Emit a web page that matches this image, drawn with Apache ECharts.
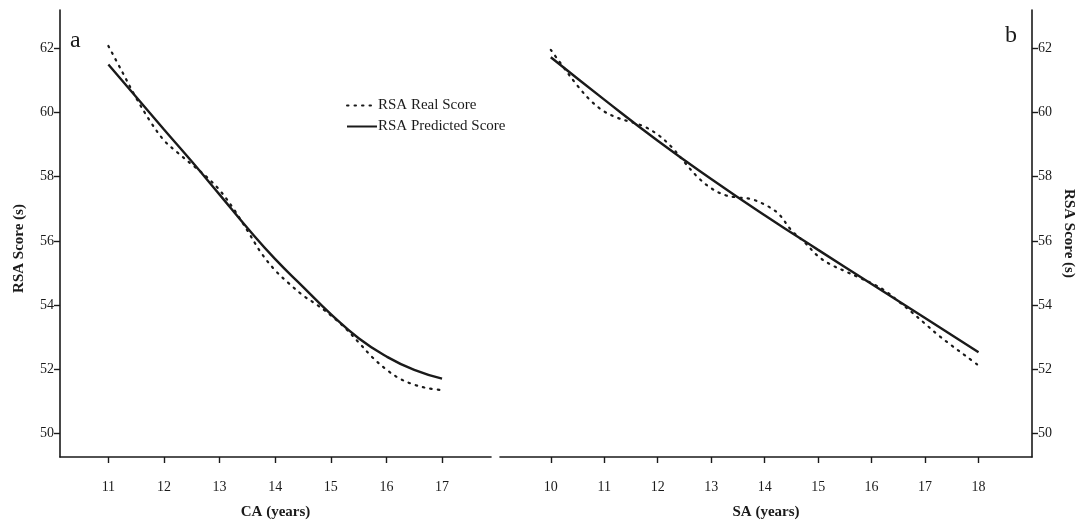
<!DOCTYPE html>
<html>
<head>
<meta charset="utf-8">
<script src="https://cdn.jsdelivr.net/npm/echarts@6/dist/echarts.min.js"></script>
<style>
  html, body { margin: 0; padding: 0; background: #fff; }
  #chart { width: 1082px; height: 525px; }
</style>
</head>
<body>
<div id="chart"></div>
<script>
// Panel a: RSA score against chronological age (CA)
const caRealX = [11.0, 11.25, 11.5, 11.75, 12.0, 12.25, 12.5, 12.75, 13.0, 13.25, 13.5, 13.75, 14.0, 14.25, 14.5, 14.75, 15.0, 15.25, 15.5, 15.75, 16.0, 16.25, 16.5, 16.75, 17.0];
const caRealY = [62.07, 61.26, 60.45, 59.73, 59.13, 58.74, 58.38, 58.02, 57.58, 57.0, 56.32, 55.62, 55.08, 54.67, 54.30, 54.01, 53.68, 53.30, 52.84, 52.37, 51.99, 51.70, 51.52, 51.41, 51.35];
const caPredX = [11.0, 11.5, 12.0, 12.5, 13.0, 13.5, 14.0, 14.5, 15.0, 15.5, 16.0, 16.5, 17.0];
const caPredY = [61.49, 60.48, 59.47, 58.47, 57.44, 56.40, 55.43, 54.57, 53.72, 52.97, 52.40, 51.98, 51.71];

// Panel b: RSA score against skeletal age (SA)
const saRealX = [10.0, 10.25, 10.5, 10.75, 11.0, 11.25, 11.5, 11.75, 12.0, 12.25, 12.5, 12.75, 13.0, 13.25, 13.5, 13.75, 14.0, 14.25, 14.5, 14.75, 15.0, 15.25, 15.5, 15.75, 16.0, 16.25, 16.5, 16.75, 17.0, 17.25, 17.5, 17.75, 18.0];
const saRealY = [61.95, 61.38, 60.83, 60.36, 60.03, 59.83, 59.70, 59.56, 59.31, 58.94, 58.45, 57.98, 57.64, 57.43, 57.35, 57.30, 57.13, 56.86, 56.33, 55.95, 55.52, 55.25, 55.06, 54.87, 54.68, 54.45, 54.12, 53.78, 53.42, 53.06, 52.74, 52.43, 52.12];
const saPredX = [10, 11, 12, 13, 14, 15, 16, 17, 18];
const saPredY = [61.72, 60.40, 59.12, 57.93, 56.80, 55.72, 54.66, 53.60, 52.53];

// Tick labels
const caTicks = [11, 12, 13, 14, 15, 16, 17];
const saTicks = [10, 11, 12, 13, 14, 15, 16, 17, 18];
const scoreTicks = [50, 52, 54, 56, 58, 60, 62];

const realName = 'RSA Real Score';
const predName = 'RSA Predicted Score';

const zip = (xs, ys) => xs.map((x, i) => [x, ys[i]]);

const FONT = '"Liberation Serif", "DejaVu Serif", serif';
const INK = '#1a1a1a';

const axisLine = { show: true, onZero: false, lineStyle: { color: INK, width: 1.6 } };
const tickStyle = { lineStyle: { color: INK, width: 1.4 } };
const labelStyle = { color: INK, fontFamily: FONT, fontSize: 14 };
const nameStyle = { color: INK, fontFamily: FONT, fontSize: 15, fontWeight: 'bold' };

function xAxis(gridIndex, min, max, ticks, name) {
  return {
    type: 'value', gridIndex, min, max, name,
    nameLocation: 'middle', nameGap: 48, nameTextStyle: nameStyle,
    axisLine,
    axisTick: Object.assign({ show: true, length: 6, inside: false, customValues: ticks }, tickStyle),
    axisLabel: Object.assign({ margin: 23, customValues: ticks }, labelStyle),
    splitLine: { show: false }
  };
}

function yAxis(gridIndex, position, name, nameGap, nameRotate, namePadding) {
  return {
    type: 'value', gridIndex, position, min: 49.27, max: 63.19, name,
    nameLocation: 'middle', nameGap, nameRotate,
    nameTextStyle: Object.assign({ padding: namePadding }, nameStyle),
    axisLine,
    axisTick: Object.assign({ show: true, length: 6, inside: false, customValues: scoreTicks }, tickStyle),
    axisLabel: Object.assign({ margin: 6, customValues: scoreTicks }, labelStyle),
    splitLine: { show: false }
  };
}

const realStyle = { color: INK, width: 2.2, type: [1.5, 6], cap: 'round' };
const predStyle = { color: INK, width: 2.4, type: 'solid' };

function realSeries(idx, xs, ys) {
  return {
    name: realName, type: 'line', xAxisIndex: idx, yAxisIndex: idx,
    data: zip(xs, ys), smooth: 0.35, showSymbol: false, symbol: 'none',
    lineStyle: realStyle, itemStyle: { color: INK }, silent: true, z: 3
  };
}
function predSeries(idx, xs, ys) {
  return {
    name: predName, type: 'line', xAxisIndex: idx, yAxisIndex: idx,
    data: zip(xs, ys), smooth: 0.5, showSymbol: false, symbol: 'none',
    lineStyle: predStyle, itemStyle: { color: INK }, silent: true, z: 4
  };
}

const chart = echarts.init(document.getElementById('chart'), null, { renderer: 'canvas' });
chart.setOption({
  animation: false,
  backgroundColor: '#fff',
  textStyle: { fontFamily: FONT },
  grid: [
    { left: 60, top: 10, width: 431, height: 457 },
    { left: 500, top: 10, width: 532, height: 457 }
  ],
  xAxis: [
    xAxis(0, 10.13, 17.88, caTicks, 'CA (years)'),
    xAxis(1, 9.05, 19.0, saTicks, 'SA (years)')
  ],
  yAxis: [
    yAxis(0, 'left', 'RSA Score (s)', 33, 90, [0, 30, 0, 0]),
    yAxis(1, 'right', 'RSA Score (s)', 29, -90, [0, 0, 0, 0])
  ],
  legend: {
    orient: 'vertical', left: 341, top: 93,
    itemWidth: 30, itemHeight: 12, itemGap: 6,
    itemStyle: { opacity: 0 },
    textStyle: { color: INK, fontFamily: FONT, fontSize: 15, padding: [0, 0, 0, -4] },
    data: [realName, predName]
  },
  graphic: [
    { type: 'text', left: 70, top: 29, style: { text: 'a', font: '24px ' + FONT, fill: INK } },
    { type: 'text', left: 1005, top: 24, style: { text: 'b', font: '24px ' + FONT, fill: INK } }
  ],
  series: [
    realSeries(0, caRealX, caRealY),
    predSeries(0, caPredX, caPredY),
    realSeries(1, saRealX, saRealY),
    predSeries(1, saPredX, saPredY)
  ]
});
</script>
</body>
</html>
